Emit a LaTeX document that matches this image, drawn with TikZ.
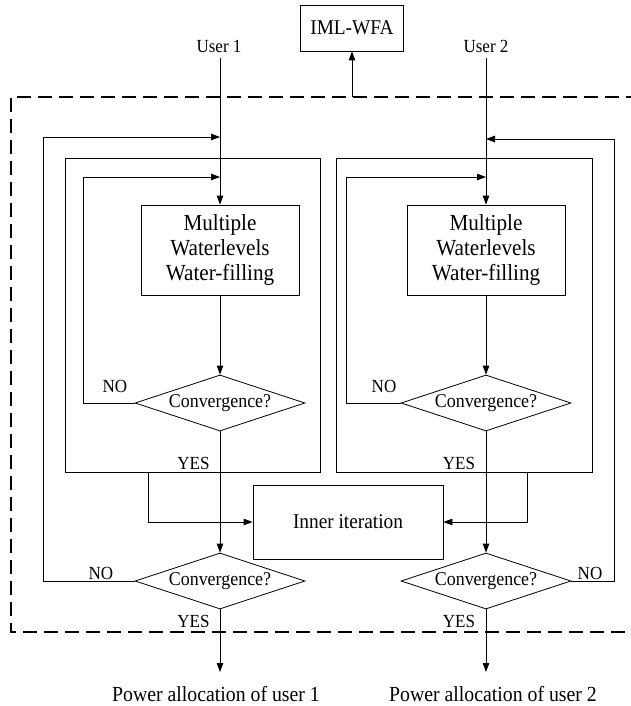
\documentclass[tikz,border=0pt]{standalone}
\usepackage{fontspec}
\setmainfont{Liberation Serif}[FakeStretch=0.92]
\usetikzlibrary{shapes.geometric,arrows.meta}
\begin{document}
\begin{tikzpicture}[x=1pt,y=-1pt,
  line width=0.8pt,
  arr/.style={-{Triangle[length=9pt,width=6.5pt]}},
  boxnode/.style={draw,rectangle,inner sep=0pt,align=center},
  decision/.style={draw,diamond,shape aspect=3,inner sep=0pt,minimum width=170pt,minimum height=56pt,font=\fontsize{19.5}{22}\selectfont},
  lbl/.style={inner sep=0pt,anchor=base,font=\fontsize{18.5}{21}\selectfont},
  outlbl/.style={inner sep=0pt,anchor=base,font=\fontsize{21.5}{24}\selectfont},
  frame/.style={line width=1.8pt,dash pattern=on 14pt off 7pt}
]
\useasboundingbox (0,0) rectangle (630,706);

% dashed frame
\draw[frame] (640,97) -- (11,97) -- (11,632) -- (640,632);

% top
\node[boxnode,minimum width=103pt,minimum height=46pt,font=\fontsize{21}{24}\selectfont] (iml) at (352,28) {IML-WFA};
\coordinate (imlbase) at (352,97);
\draw[arr] (imlbase) -- (iml.south);

\node[lbl] (u1) at (219,52.7) {User 1};
\node[lbl] (u2) at (486,52.7) {User 2};
\coordinate (u1s) at (220,58);
\coordinate (u2s) at (486,58);

% inner rectangles
\node[draw,rectangle,inner sep=0pt,minimum width=255pt,minimum height=314pt] (in1) at (192.5,315) {};
\node[draw,rectangle,inner sep=0pt,minimum width=256pt,minimum height=314pt] (in2) at (464,315) {};

% water-filling boxes
\node[boxnode,minimum width=158pt,minimum height=90pt,font=\fontsize{23}{25}\selectfont] (mw1) at (220,250) {Multiple\\Waterlevels\\Water-filling};
\node[boxnode,minimum width=158pt,minimum height=90pt,font=\fontsize{23}{25}\selectfont] (mw2) at (486,250) {Multiple\\Waterlevels\\Water-filling};

% decisions
\node[decision] (c1) at (220,403) {Convergence?};
\node[decision] (c2) at (486,403) {Convergence?};
\node[decision] (c3) at (220,581) {Convergence?};
\node[decision] (c4) at (486,581) {Convergence?};

% inner iteration
\node[boxnode,minimum width=190pt,minimum height=74pt,font=\fontsize{21}{24}\selectfont] (ii) at (348,522) {Inner iteration};

% outputs
\node[outlbl] (p1) at (216,701) {Power allocation of user 1};
\node[outlbl] (p2) at (493,701) {Power allocation of user 2};
\coordinate (o1) at (220,672);
\coordinate (o2) at (486,672);

% main flow
\draw[arr] (u1s) -- (mw1.north);
\draw[arr] (u2s) -- (mw2.north);
\draw[arr] (mw1.south) -- (c1.north);
\draw[arr] (mw2.south) -- (c2.north);
\draw[arr] (c1.south) -- (c3.north);
\draw[arr] (c2.south) -- (c4.north);
\draw[arr] (c3.south) -- (o1);
\draw[arr] (c4.south) -- (o2);

% inner loops
\coordinate (l1a) at (83,403);
\coordinate (l1b) at (83,177);
\coordinate (l1t) at (220,177);
\draw[arr] (c1.west) -- (l1a) -- (l1b) -- (l1t);
\coordinate (l2a) at (346,403);
\coordinate (l2b) at (346,177);
\coordinate (l2t) at (486,177);
\draw[arr] (c2.west) -- (l2a) -- (l2b) -- (l2t);

% outer loops
\coordinate (ol1a) at (43,581);
\coordinate (ol1b) at (43,137);
\coordinate (ol1t) at (220,137);
\draw[arr] (c3.west) -- (ol1a) -- (ol1b) -- (ol1t);
\coordinate (ol2a) at (614,581);
\coordinate (ol2b) at (614,139);
\coordinate (ol2t) at (486,139);
\draw[arr] (c4.east) -- (ol2a) -- (ol2b) -- (ol2t);

% to inner iteration
\coordinate (t1a) at (148,472);
\coordinate (t1b) at (148,522);
\draw[arr] (t1a) -- (t1b) -- (ii.west);
\coordinate (t2a) at (527,472);
\coordinate (t2b) at (527,522);
\draw[arr] (t2a) -- (t2b) -- (ii.east);

% labels
\node[lbl] (no1) at (115,392) {NO};
\node[lbl] (no2) at (384,392) {NO};
\node[lbl] (yes1) at (193.5,469) {YES};
\node[lbl] (yes2) at (459,469) {YES};
\node[lbl] (no3) at (101,579) {NO};
\node[lbl] (no4) at (590,579) {NO};
\node[lbl] (yes3) at (193.5,627) {YES};
\node[lbl] (yes4) at (459,627) {YES};
\end{tikzpicture}
\end{document}
